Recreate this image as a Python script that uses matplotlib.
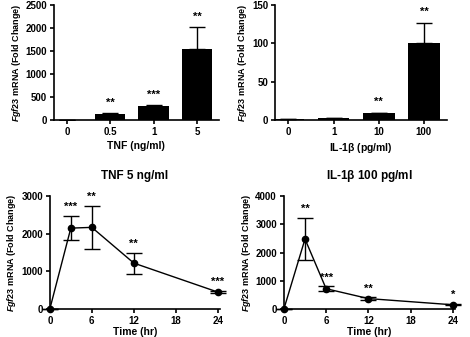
import matplotlib
matplotlib.use("Agg")
import matplotlib.pyplot as plt
import numpy as np

plt.rcParams['font.family'] = ['Liberation Sans', 'DejaVu Sans']
plt.rcParams['font.weight'] = 'bold'
plt.rcParams['axes.labelweight'] = 'bold'
plt.rcParams['mathtext.fontset'] = 'custom'
plt.rcParams['mathtext.it'] = 'Liberation Sans:italic:bold'
plt.rcParams['mathtext.rm'] = 'Liberation Sans:bold'
plt.rcParams['mathtext.bf'] = 'Liberation Sans:bold'

# top-left: TNF dose
tnf_doses = ["0", "0.5", "1", "5"]
tnf_vals = [1, 130, 310, 1540]
tnf_err = [0, 20, 12, 480]
tnf_stars = ["", "**", "***", "**"]

# top-right: IL-1b dose
il_doses = ["0", "1", "10", "100"]
il_vals = [1, 2.5, 8.5, 100]
il_err = [0, 0.6, 1.2, 27]
il_stars = ["", "", "**", "**"]

# bottom: time course
time_hr = [0, 3, 6, 12, 24]
tnf_t_vals = [0, 2150, 2170, 1220, 450]
tnf_t_err = [0, 320, 580, 280, 30]
tnf_t_stars = ["", "***", "**", "**", "***"]

il_t_vals = [0, 2480, 720, 370, 150]
il_t_err = [0, 760, 80, 40, 20]
il_t_stars = ["", "**", "***", "**", "*"]

ylab = r"$\it{Fgf23}$" + " mRNA (Fold Change)"

fig = plt.figure(figsize=(4.7, 3.37), dpi=100)

def style(ax):
    for s in ["top", "right"]:
        ax.spines[s].set_visible(False)
    for s in ["left", "bottom"]:
        ax.spines[s].set_linewidth(1.2)
    ax.tick_params(width=1.2, length=3, labelsize=7, pad=2)
    for t in ax.get_xticklabels() + ax.get_yticklabels():
        t.set_fontweight('bold')

def bar_panel(rect, cats, vals, err, stars, ymax, ystep, xlabel):
    ax = fig.add_axes(rect)
    x = np.arange(len(cats))
    ax.bar(x, vals, width=0.7, color='black')
    ax.errorbar(x, vals, yerr=[np.zeros(len(err)), err], fmt='none',
                ecolor='black', elinewidth=1.0, capsize=5.5, capthick=1.0)
    for xi, v, e, s in zip(x, vals, err, stars):
        if s:
            ax.text(xi, v + e + ymax * 0.09, s, ha='center', va='center',
                    fontsize=8, fontweight='bold')
    ax.set_xlim(-0.3, 3.5)
    ax.set_ylim(0, ymax)
    ax.set_yticks(np.arange(0, ymax + 1, ystep))
    ax.set_xticks(x)
    ax.set_xticklabels(cats)
    ax.tick_params(axis='x', length=0, pad=8)
    ax.set_xlabel(xlabel, fontsize=7.5, labelpad=3)
    ax.set_ylabel(ylab, fontsize=6.5, fontweight='bold', labelpad=2)
    style(ax)
    return ax

def line_panel(rect, vals, err, stars, ymax, title):
    ax = fig.add_axes(rect)
    ax.errorbar(time_hr, vals, yerr=err, fmt='-o', color='black',
                markersize=4.5, linewidth=1.0, elinewidth=1.0,
                capsize=5.5, capthick=1.0, clip_on=False)
    for xi, v, e, s in zip(time_hr, vals, err, stars):
        if s:
            ax.text(xi, v + e + ymax * 0.08, s, ha='center', va='center',
                    fontsize=8, fontweight='bold')
    ax.set_xlim(0, 24.3)
    ax.set_ylim(0, ymax)
    ax.set_xticks([0, 6, 12, 18, 24])
    ax.set_yticks(np.arange(0, ymax + 1, 1000))
    ax.set_xlabel("Time (hr)", fontsize=7.5, labelpad=1)
    ax.set_ylabel(ylab, fontsize=6.5, fontweight='bold', labelpad=2)
    ax.set_title(title, fontsize=8.5, fontweight='bold', pad=12)
    style(ax)
    return ax

bar_panel([0.115, 0.644, 0.35, 0.341], tnf_doses, tnf_vals, tnf_err,
          tnf_stars, 2500, 500, "TNF (ng/ml)")
bar_panel([0.585, 0.644, 0.365, 0.341], il_doses, il_vals, il_err,
          il_stars, 150, 50, "IL-1" + r"$\mathbf{\beta}$" + " (pg/ml)")
line_panel([0.106, 0.083, 0.362, 0.335], tnf_t_vals, tnf_t_err,
           tnf_t_stars, 3000, "TNF 5 ng/ml")
line_panel([0.604, 0.083, 0.364, 0.335], il_t_vals, il_t_err,
           il_t_stars, 4000, "IL-1" + r"$\mathbf{\beta}$" + " 100 pg/ml")

fig.savefig("out.png", dpi=100)
